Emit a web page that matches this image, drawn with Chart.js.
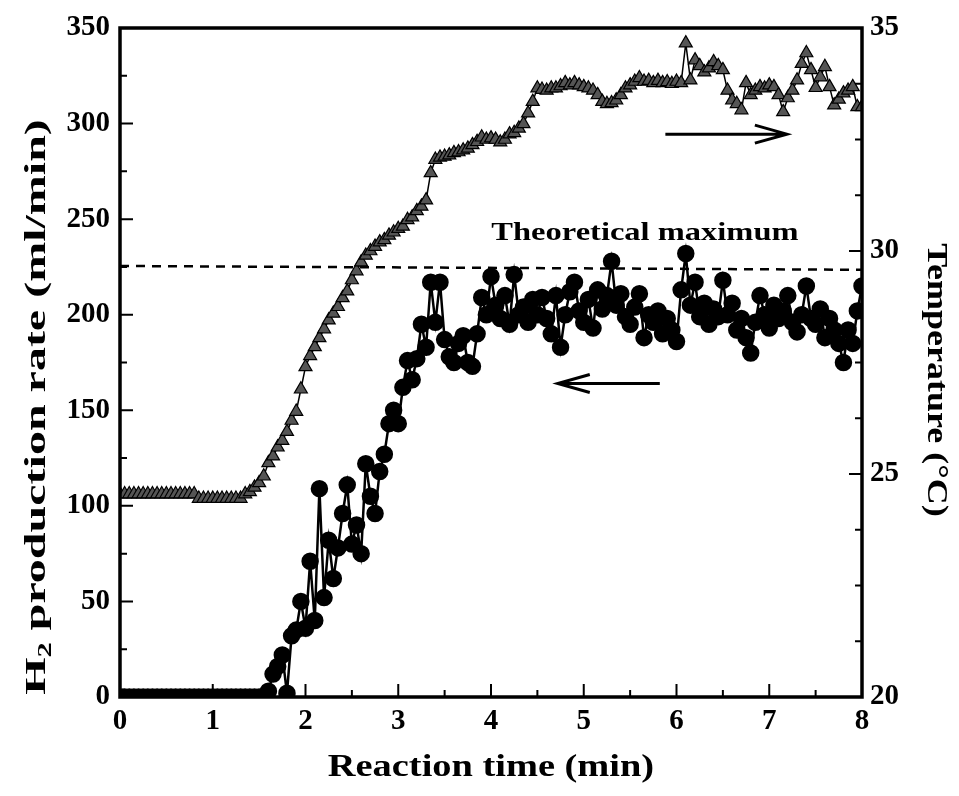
<!DOCTYPE html>
<html>
<head>
<meta charset="utf-8">
<script src="https://cdn.jsdelivr.net/npm/chart.js@4.4.1/dist/chart.umd.min.js"></script>
<style>
  html, body { margin: 0; padding: 0; background: #fff; }
  #wrap { width: 959px; height: 796px; }
</style>
</head>
<body>
<div id="wrap"><canvas id="chart" width="959" height="796"></canvas></div>
<script>
// reaction time (min), one reading every 3 s
const times = [
  0, 0.05, 0.1, 0.15, 0.2, 0.25, 0.3, 0.35, 0.4, 0.45, 0.5, 0.55, 0.6, 0.65, 0.7, 0.75,
  0.8, 0.85, 0.9, 0.95, 1, 1.05, 1.1, 1.15, 1.2, 1.25, 1.3, 1.35, 1.4, 1.45, 1.5, 1.55,
  1.6, 1.65, 1.7, 1.75, 1.8, 1.85, 1.9, 1.95, 2, 2.05, 2.1, 2.15, 2.2, 2.25, 2.3, 2.35,
  2.4, 2.45, 2.5, 2.55, 2.6, 2.65, 2.7, 2.75, 2.8, 2.85, 2.9, 2.95, 3, 3.05, 3.1, 3.15,
  3.2, 3.25, 3.3, 3.35, 3.4, 3.45, 3.5, 3.55, 3.6, 3.65, 3.7, 3.75, 3.8, 3.85, 3.9, 3.95,
  4, 4.05, 4.1, 4.15, 4.2, 4.25, 4.3, 4.35, 4.4, 4.45, 4.5, 4.55, 4.6, 4.65, 4.7, 4.75,
  4.8, 4.85, 4.9, 4.95, 5, 5.05, 5.1, 5.15, 5.2, 5.25, 5.3, 5.35, 5.4, 5.45, 5.5, 5.55,
  5.6, 5.65, 5.7, 5.75, 5.8, 5.85, 5.9, 5.95, 6, 6.05, 6.1, 6.15, 6.2, 6.25, 6.3, 6.35,
  6.4, 6.45, 6.5, 6.55, 6.6, 6.65, 6.7, 6.75, 6.8, 6.85, 6.9, 6.95, 7, 7.05, 7.1, 7.15,
  7.2, 7.25, 7.3, 7.35, 7.4, 7.45, 7.5, 7.55, 7.6, 7.65, 7.7, 7.75, 7.8, 7.85, 7.9, 7.95, 8
];

// H2 production rate (ml/min)
const h2Rate = [
  0, 0, 0, 0, 0, 0, 0, 0, 0, 0, 0, 0, 0, 0, 0, 0,
  0, 0, 0, 0, 0, 0, 0, 0, 0, 0, 0, 0, 0, 0, 0, 0,
  3, 12, 16, 22, 2, 32, 35, 50, 36, 71, 40, 109, 52, 82, 62, 78,
  96, 111, 80, 90, 75, 122, 105, 96, 118, 127, 143, 150, 143, 162, 176, 166,
  177, 195, 183, 217, 196, 217, 187, 178, 175, 185, 189, 175, 173, 190, 209, 200,
  220, 205, 198, 210, 195, 221, 200, 204, 196, 208, 200, 209, 198, 190, 210, 183,
  200, 212, 217, 202, 196, 208, 193, 213, 203, 210, 228, 205, 211, 199, 195, 204,
  211, 188, 200, 196, 202, 190, 198, 192, 186, 213, 232, 205, 217, 199, 206, 195,
  203, 199, 218, 200, 206, 192, 198, 188, 180, 196, 210, 200, 193, 205, 198, 202,
  210, 196, 191, 200, 215, 198, 195, 203, 188, 198, 192, 185, 175, 192, 185, 202, 215
];

// temperature (°C)
const temperature = [
  24.55, 24.55, 24.55, 24.55, 24.55, 24.55, 24.55, 24.55, 24.55, 24.55, 24.55, 24.55, 24.55, 24.55, 24.55, 24.55,
  24.55, 24.45, 24.45, 24.45, 24.45, 24.45, 24.45, 24.45, 24.45, 24.45, 24.45, 24.55, 24.6, 24.7, 24.8, 24.95,
  25.25, 25.4, 25.6, 25.75, 25.95, 26.2, 26.4, 26.9, 27.4, 27.65, 27.85, 28.05, 28.25, 28.45, 28.6, 28.75,
  28.95, 29.1, 29.35, 29.55, 29.75, 29.9, 30.0, 30.1, 30.2, 30.25, 30.35, 30.42, 30.5, 30.55, 30.7, 30.76,
  30.9, 31.0, 31.14, 31.75, 32.05, 32.1, 32.12, 32.15, 32.2, 32.22, 32.26, 32.3, 32.38, 32.45, 32.55, 32.5,
  32.53, 32.5, 32.44, 32.5, 32.62, 32.65, 32.75, 32.85, 33.09, 33.35, 33.65, 33.62, 33.6, 33.65, 33.65, 33.7,
  33.77, 33.72, 33.77, 33.72, 33.68, 33.65, 33.6, 33.5, 33.35, 33.3, 33.32, 33.38, 33.5, 33.65, 33.72, 33.8,
  33.88, 33.8, 33.82, 33.77, 33.82, 33.77, 33.79, 33.75, 33.8, 33.77, 34.66, 33.83, 34.28, 34.15, 34.01, 34.1,
  34.24, 34.15, 34.06, 33.6, 33.38, 33.3, 33.16, 33.77, 33.5, 33.6, 33.68, 33.65, 33.72, 33.68, 33.5, 33.12,
  33.43, 33.6, 33.83, 34.2, 34.44, 34.06, 33.66, 33.9, 34.13, 33.68, 33.27, 33.4, 33.54, 33.6, 33.68, 33.23, 33.23
];

// dashed theoretical maximum line (ml/min) at both ends of the time axis
const maxTimes = [0, 8];
const maxRate = [225.5, 223.5];

const serif = '"Liberation Serif", "DejaVu Serif", serif';

const toPoints = (xs, ys) => xs.map((x, i) => ({ x: x, y: ys[i] }));

// text stretched along its baseline, like the scanned original
function stretchedText(ctx, parts, cx, cy, angle, stretch) {
  ctx.save();
  ctx.translate(cx, cy);
  ctx.rotate(angle);
  ctx.scale(stretch, 1);
  ctx.textAlign = 'left';
  ctx.textBaseline = 'middle';
  let total = 0;
  parts.forEach(p => { ctx.font = p.font; total += ctx.measureText(p.text).width; });
  let x = -total / 2;
  parts.forEach(p => {
    ctx.font = p.font;
    ctx.fillText(p.text, x, p.dy || 0);
    x += ctx.measureText(p.text).width;
  });
  ctx.restore();
}

// frame, inward ticks, axis titles, label and arrows
const decorations = {
  id: 'decorations',
  afterDraw(chart) {
    const ctx = chart.ctx;
    const a = chart.chartArea;
    const sx = chart.scales.x, sy = chart.scales.y, st = chart.scales.y2;
    ctx.save();
    ctx.strokeStyle = '#000';
    ctx.fillStyle = '#000';
    ctx.lineWidth = 3.5;
    ctx.strokeRect(a.left, a.top, a.right - a.left, a.bottom - a.top);

    ctx.lineWidth = 2;
    ctx.beginPath();
    for (let v = 0; v <= 350; v += 25) {
      const y = sy.getPixelForValue(v);
      const len = v % 50 === 0 ? 13 : 7;
      ctx.moveTo(a.left, y); ctx.lineTo(a.left + len, y);
    }
    for (let v = 0; v <= 8; v += 0.5) {
      const x = sx.getPixelForValue(v);
      const len = v % 1 === 0 ? 13 : 7;
      ctx.moveTo(x, a.bottom); ctx.lineTo(x, a.bottom - len);
    }
    for (let v = 20; v <= 35; v += 1.25) {
      const y = st.getPixelForValue(v);
      const len = v % 5 === 0 ? 13 : 7;
      ctx.moveTo(a.right, y); ctx.lineTo(a.right - len, y);
    }
    ctx.stroke();

    const big = 'bold 30px ' + serif, small = 'bold 19px ' + serif;
    stretchedText(ctx, [
      { text: 'H', font: big },
      { text: '2', font: small, dy: 9 },
      { text: ' production rate (ml/min)', font: big }
    ], 37, 407, -Math.PI / 2, 1.6);
    stretchedText(ctx, [{ text: 'Temperature (°C)', font: big }], 936, 380, Math.PI / 2, 1.2);
    stretchedText(ctx, [{ text: 'Reaction time (min)', font: 'bold 32px ' + serif }], 491, 768, 0, 1.2);
    stretchedText(ctx, [{ text: 'Theoretical maximum', font: 'bold 26px ' + serif }],
      sx.getPixelForValue(5.66), sy.getPixelForValue(242.5), 0, 1.25);

    // arrows pointing to each series' axis
    const arrow = (x1, x2, y) => {
      ctx.lineWidth = 3;
      ctx.beginPath();
      ctx.moveTo(x1, y); ctx.lineTo(x2, y);
      const d = x2 > x1 ? -1 : 1;
      ctx.moveTo(x2 + d * 32, y - 9); ctx.lineTo(x2, y); ctx.lineTo(x2 + d * 32, y + 9);
      ctx.stroke();
    };
    arrow(sx.getPixelForValue(5.82), sx.getPixelForValue(4.72), sy.getPixelForValue(164));
    arrow(sx.getPixelForValue(5.88), sx.getPixelForValue(7.19), st.getPixelForValue(32.62));
    ctx.restore();
  }
};

const tickFont = { family: serif, weight: 'bold', size: 29 };

new Chart(document.getElementById('chart'), {
  type: 'line',
  data: {
    datasets: [
      {
        label: 'Theoretical maximum',
        data: toPoints(maxTimes, maxRate),
        yAxisID: 'y',
        borderColor: '#000',
        borderWidth: 2.5,
        borderDash: [9, 7],
        pointRadius: 0
      },
      {
        label: 'Temperature',
        data: toPoints(times, temperature),
        yAxisID: 'y2',
        borderColor: '#000',
        borderWidth: 1.5,
        pointStyle: 'triangle',
        pointRadius: 7.5,
        pointBackgroundColor: '#555',
        pointBorderColor: '#000',
        pointBorderWidth: 1.2
      },
      {
        label: 'H2 production rate',
        data: toPoints(times, h2Rate),
        yAxisID: 'y',
        borderColor: '#000',
        borderWidth: 2.5,
        pointStyle: 'circle',
        pointRadius: 7.5,
        pointBackgroundColor: '#000',
        pointBorderColor: '#000'
      }
    ]
  },
  options: {
    responsive: false,
    animation: false,
    layout: { padding: { top: 28, left: 0, right: 0, bottom: 0 } },
    plugins: { legend: { display: false }, tooltip: { enabled: false } },
    scales: {
      x: {
        type: 'linear',
        min: 0, max: 8,
        afterFit: s => { s.height = 99; },
        grid: { display: false, drawTicks: false },
        border: { display: false },
        ticks: { stepSize: 1, padding: 7, color: '#000', font: tickFont }
      },
      y: {
        position: 'left',
        min: 0, max: 350,
        afterFit: s => { s.width = 120; },
        grid: { display: false, drawTicks: false },
        border: { display: false },
        ticks: { stepSize: 50, padding: 10, color: '#000', font: tickFont }
      },
      y2: {
        position: 'right',
        min: 20, max: 35,
        afterFit: s => { s.width = 97; },
        grid: { display: false, drawTicks: false },
        border: { display: false },
        ticks: { stepSize: 5, padding: 8, color: '#000', font: tickFont }
      }
    }
  },
  plugins: [decorations]
});
</script>
</body>
</html>
